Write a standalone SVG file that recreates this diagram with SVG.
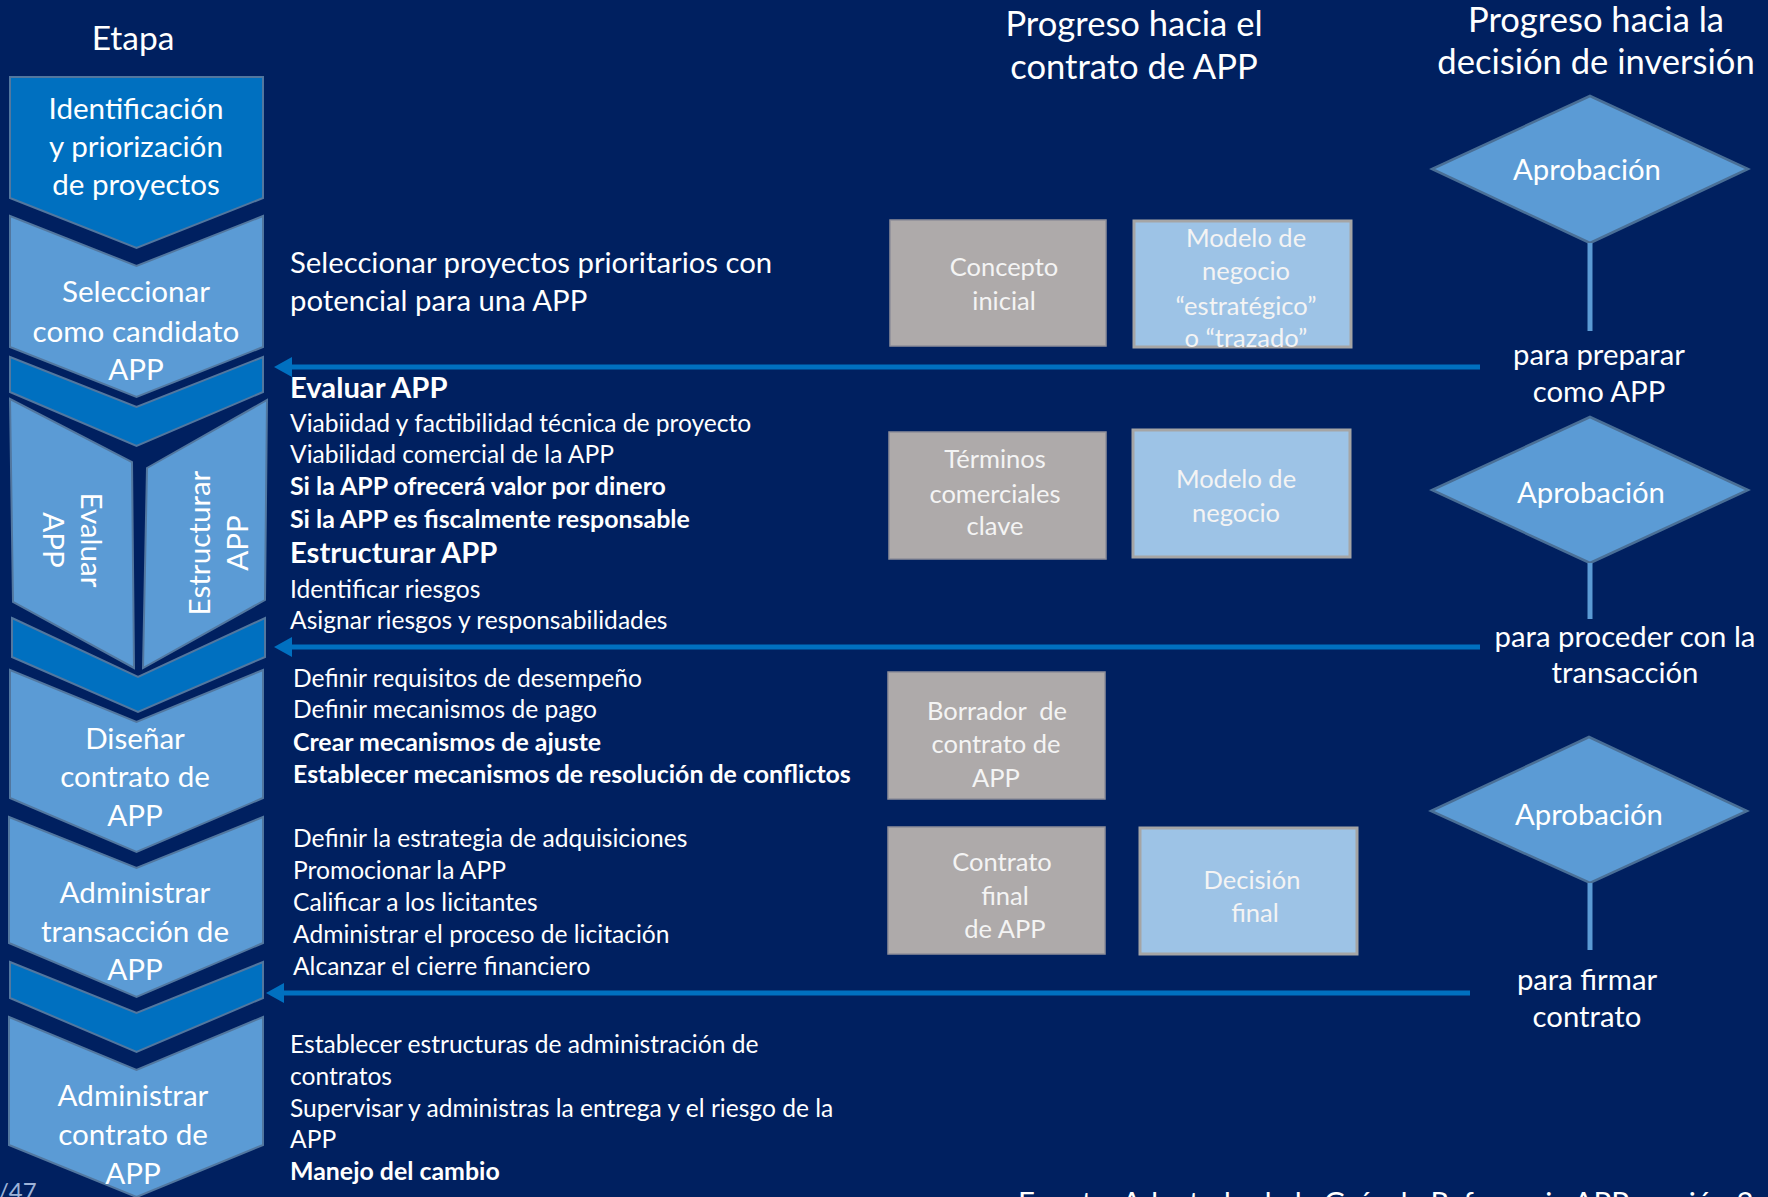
<svg xmlns="http://www.w3.org/2000/svg" width="1768" height="1197" viewBox="0 0 1768 1197">
<defs>
<style>
text{font-family:Lato,"Open Sans","Liberation Sans",sans-serif;fill:#FFFFFF}
.hd{font-size:34.6px}
.cv{font-size:29.6px;text-anchor:middle}
.ti{font-size:29.3px}
.bd{font-size:24.6px}
.bb{font-size:24.9px;font-weight:bold}
.bh{font-size:29.2px;font-weight:bold}
.bx{font-size:25.5px;text-anchor:middle;fill:#F4F4F4}
.dm{font-size:29.3px;text-anchor:middle}
.chev{fill:#5B9BD5;stroke:#52779F;stroke-width:2}
.dark{fill:#0070C0;stroke:#52779F;stroke-width:2}
.grey{fill:#AEAAAA;stroke:#8E8E99;stroke-width:1.5}
.lb{fill:#9DC3E6;stroke:#A5A5A5;stroke-width:3}
.dia{fill:#5B9BD5;stroke:#4A6F96;stroke-width:2.5}
.arr{stroke:#0070C0;stroke-width:5;fill:none}
.vl{stroke:#5B9BD5;stroke-width:5}
</style>
<marker id="ah" viewBox="0 0 18 20" markerWidth="18" markerHeight="20" refX="0" refY="10" orient="auto" markerUnits="userSpaceOnUse">
<path d="M0,0 L18,10 L0,20 Z" fill="#0070C0"/>
</marker>
</defs>
<rect x="0" y="0" width="1768" height="1197" fill="#002060"/>

<text class="hd" x="133" y="50" text-anchor="middle" style="font-size:33.5px">Etapa</text>
<text class="hd" x="1134" y="36" text-anchor="middle">Progreso hacia el</text>
<text class="hd" x="1134" y="79" text-anchor="middle">contrato de APP</text>
<text class="hd" x="1596" y="32" text-anchor="middle">Progreso hacia la</text>
<text class="hd" x="1596" y="74" text-anchor="middle">decisión de inversión</text>

<g id="stage-identificacion">
<polygon class="dark" points="10,77 263,77 263,198 136.5,248 10,198"/>
<text class="cv" x="136" y="119">Identificación</text>
<text class="cv" x="136" y="157">y priorización</text>
<text class="cv" x="136" y="195">de proyectos</text>
</g>
<g id="stage-seleccionar">
<polygon class="chev" points="10,216 136.5,266 263,216 263,347 136.5,397 10,347"/>
<text class="cv" x="136" y="302">Seleccionar</text>
<text class="cv" x="136" y="342">como candidato</text>
<text class="cv" x="136" y="380">APP</text>
</g>
<g id="gate-1">
<polygon class="dark" points="10,357 136.5,407 263,357 263,392 136.5,446 10,392"/>
</g>
<g id="stage-evaluar">
<polygon class="chev" points="10,399 132,462 134,668 13,602"/>
<g transform="translate(73,540) rotate(90)">
<text class="cv" x="0" y="-8">Evaluar</text>
<text class="cv" x="0" y="30">APP</text>
</g>
</g>
<g id="stage-estructurar">
<polygon class="chev" points="147,468 267,400 265,600 143,668"/>
<g transform="translate(217,543) rotate(-90)">
<text class="cv" x="0" y="-7">Estructurar</text>
<text class="cv" x="0" y="31">APP</text>
</g>
</g>
<g id="gate-2">
<polygon class="dark" points="12,618 138,677 265,618 265,657 138,712 12,657"/>
</g>
<g id="stage-disenar">
<polygon class="chev" points="10,670 136.5,722 263,670 263,798 136.5,852 10,798"/>
<text class="cv" x="135" y="749">Diseñar</text>
<text class="cv" x="135" y="787">contrato de</text>
<text class="cv" x="135" y="826">APP</text>
</g>
<g id="stage-transaccion">
<polygon class="chev" points="9,817 136.5,868 263,817 263,943 136.5,997 9,943"/>
<text class="cv" x="135" y="903">Administrar</text>
<text class="cv" x="135" y="942">transacción de</text>
<text class="cv" x="135" y="980">APP</text>
</g>
<g id="gate-3">
<polygon class="dark" points="10,962 136.5,1013 263,962 263,998 136.5,1052 10,998"/>
</g>
<g id="stage-contrato">
<polygon class="chev" points="9,1017 136.5,1070 263,1017 263,1145 136.5,1197 9,1145"/>
<text class="cv" x="133" y="1106">Administrar</text>
<text class="cv" x="133" y="1145">contrato de</text>
<text class="cv" x="133" y="1184">APP</text>
</g>

<g id="text-seleccionar">
<text class="ti" x="290" y="273">Seleccionar proyectos prioritarios con</text>
<text class="ti" x="290" y="311">potencial para una APP</text>
</g>
<g id="text-evaluar-estructurar">
<text class="bh" x="290" y="398">Evaluar APP</text>
<text class="bd" x="290" y="432">Viabiidad y factibilidad técnica de proyecto</text>
<text class="bd" x="290" y="463">Viabilidad comercial de la APP</text>
<text class="bb" x="290" y="495">Si la APP ofrecerá valor por dinero</text>
<text class="bb" x="290" y="528">Si la APP es fiscalmente responsable</text>
<text class="bh" x="290" y="563">Estructurar APP</text>
<text class="bd" x="290" y="598">Identificar riesgos</text>
<text class="bd" x="290" y="629">Asignar riesgos y responsabilidades</text>
</g>
<g id="text-disenar">
<text class="bd" x="293" y="687">Definir requisitos de desempeño</text>
<text class="bd" x="293" y="718">Definir mecanismos de pago</text>
<text class="bb" x="293" y="751">Crear mecanismos de ajuste</text>
<text class="bb" x="293" y="783">Establecer mecanismos de resolución de conflictos</text>
</g>
<g id="text-transaccion">
<text class="bd" x="293" y="847">Definir la estrategia de adquisiciones</text>
<text class="bd" x="293" y="879">Promocionar la APP</text>
<text class="bd" x="293" y="911">Calificar a los licitantes</text>
<text class="bd" x="293" y="943">Administrar el proceso de licitación</text>
<text class="bd" x="293" y="975">Alcanzar el cierre financiero</text>
</g>
<g id="text-contrato">
<text class="bd" x="290" y="1053">Establecer estructuras de administración de</text>
<text class="bd" x="290" y="1085">contratos</text>
<text class="bd" x="290" y="1117">Supervisar y administras la entrega y el riesgo de la</text>
<text class="bd" x="290" y="1148">APP</text>
<text class="bb" x="290" y="1180">Manejo del cambio</text>
</g>

<g id="box-concepto">
<rect class="grey" x="890" y="220" width="216" height="126"/>
<text class="bx" x="1004" y="276">Concepto</text>
<text class="bx" x="1004" y="310">inicial</text>
</g>
<g id="box-modelo-estrategico">
<rect class="lb" x="1134" y="221" width="217" height="126"/>
<text class="bx" x="1246" y="247">Modelo de</text>
<text class="bx" x="1246" y="280">negocio</text>
<text class="bx" x="1246" y="315">“estratégico”</text>
<text class="bx" x="1246" y="347">o “trazado”</text>
</g>
<g id="box-terminos">
<rect class="grey" x="889" y="432" width="217" height="127"/>
<text class="bx" x="995" y="468">Términos</text>
<text class="bx" x="995" y="503">comerciales</text>
<text class="bx" x="995" y="535">clave</text>
</g>
<g id="box-modelo">
<rect class="lb" x="1133" y="430" width="217" height="127"/>
<text class="bx" x="1236" y="488">Modelo de</text>
<text class="bx" x="1236" y="522">negocio</text>
</g>
<g id="box-borrador">
<rect class="grey" x="888" y="672" width="217" height="127"/>
<text class="bx" x="997" y="720" xml:space="preserve">Borrador  de</text>
<text class="bx" x="996" y="753">contrato de</text>
<text class="bx" x="996" y="787">APP</text>
</g>
<g id="box-contrato-final">
<rect class="grey" x="888" y="827" width="217" height="127"/>
<text class="bx" x="1002" y="871">Contrato</text>
<text class="bx" x="1005" y="905">final</text>
<text class="bx" x="1005" y="938">de APP</text>
</g>
<g id="box-decision">
<rect class="lb" x="1140" y="828" width="217" height="126"/>
<text class="bx" x="1252" y="889">Decisión</text>
<text class="bx" x="1255" y="922">final</text>
</g>

<g id="approval-1">
<polygon class="dia" points="1590,96 1748,169 1590,243 1432,169"/>
<text class="dm" x="1587" y="180">Aprobación</text>
</g>
<g id="approval-2">
<polygon class="dia" points="1590,417 1748,490 1590,563 1432,490"/>
<text class="dm" x="1591" y="503">Aprobación</text>
</g>
<g id="approval-3">
<polygon class="dia" points="1589,737 1747,811 1590,883 1431,811"/>
<text class="dm" x="1589" y="825">Aprobación</text>
</g>

<g id="label-preparar">
<text class="dm" x="1599" y="365">para preparar</text>
<text class="dm" x="1599" y="402">como APP</text>
</g>
<g id="label-proceder">
<text class="dm" x="1625" y="647">para proceder con la</text>
<text class="dm" x="1625" y="683">transacción</text>
</g>
<g id="label-firmar">
<text class="dm" x="1587" y="990">para firmar</text>
<text class="dm" x="1587" y="1027">contrato</text>
</g>

<g id="connectors">
<line class="vl" x1="1590" y1="243" x2="1590" y2="331"/>
<line class="vl" x1="1590" y1="563" x2="1590" y2="619"/>
<line class="vl" x1="1590" y1="883" x2="1590" y2="950"/>
<line class="arr" x1="1480" y1="367" x2="292" y2="367" marker-end="url(#ah)"/>
<line class="arr" x1="1480" y1="647" x2="292" y2="647" marker-end="url(#ah)"/>
<line class="arr" x1="1470" y1="993" x2="284" y2="993" marker-end="url(#ah)"/>
</g>

<text x="-2" y="1200" style="font-size:24px;fill:#9DB3D8">/47</text>
<text x="1018" y="1213" style="font-size:29.5px">Fuente: Adaptado de la Guía de Referencia APP versión 2</text>
</svg>
